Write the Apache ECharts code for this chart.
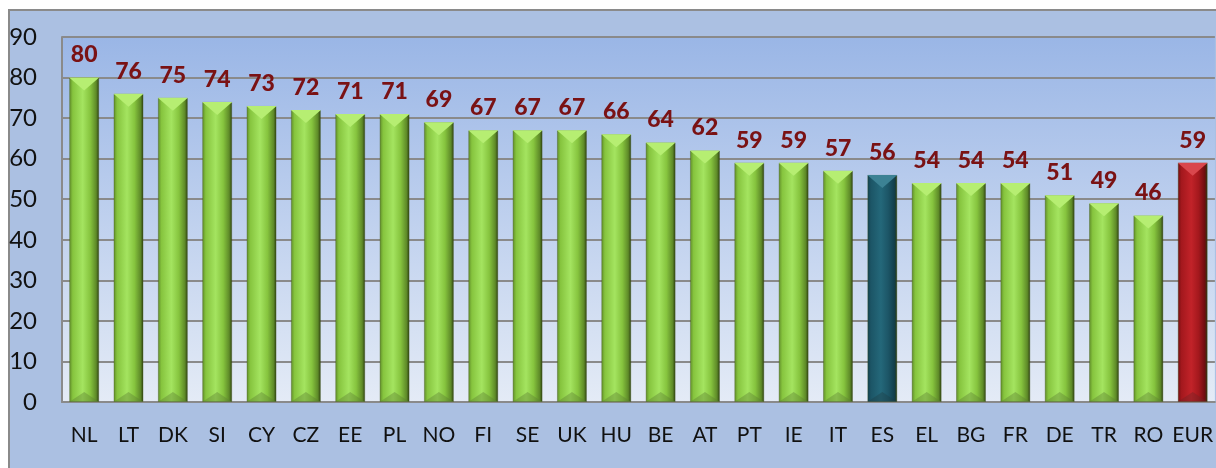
<!DOCTYPE html>
<html>
<head>
<meta charset="utf-8">
<script src="https://cdn.jsdelivr.net/npm/echarts@6/dist/echarts.min.js"></script>
<style>
  html, body { margin: 0; padding: 0; background: #fff; }
  #frame {
    position: absolute; left: 8px; top: 9px; width: 1216px; height: 470px;
    border: 2px solid #8a8a8a; box-sizing: border-box; background: #abc0e2;
  }
  #chart { position: absolute; left: 0; top: 0; width: 1216px; height: 468px; }
</style>
</head>
<body>
<div id="frame"></div>
<div id="chart"></div>
<script>
const categories = ["NL", "LT", "DK", "SI", "CY", "CZ", "EE", "PL", "NO", "FI", "SE", "UK", "HU",
  "BE", "AT", "PT", "IE", "IT", "ES", "EL", "BG", "FR", "DE", "TR", "RO", "EUR"];
const values = [80, 76, 75, 74, 73, 72, 71, 71, 69, 67, 67, 67, 66, 64, 62, 59, 59, 57, 56, 54, 54, 54, 51, 49, 46, 59];
const yTicks = [0, 10, 20, 30, 40, 50, 60, 70, 80, 90];

const chartContainer = document.getElementById("chart");
const myChart = echarts.init(chartContainer);

function barGradient(dark, mid, light) {
  return new echarts.graphic.LinearGradient(0, 0, 1, 0, [
    { offset: 0, color: dark },
    { offset: 0.12, color: mid },
    { offset: 0.45, color: light },
    { offset: 0.7, color: mid },
    { offset: 0.9, color: dark },
    { offset: 1, color: "#2a3a10" },
  ]);
}

const palette = {
  green: { fill: barGradient("#5e8a28", "#86c43e", "#a4e460"), top: "#b6ee72", bottom: "#5d7f32" },
  teal: { fill: barGradient("#123f4c", "#1c5566", "#24687a"), top: "#3c8294", bottom: "#1f3e47" },
  red: { fill: barGradient("#6e0d10", "#a3181d", "#c22329"), top: "#d9474d", bottom: "#6e2226" },
};

function pick(i) {
  if (categories[i] === "ES") return palette.teal;
  if (categories[i] === "EUR") return palette.red;
  return palette.green;
}

const barData = values.map((v, i) => ({ value: v, itemStyle: { color: pick(i).fill } }));
const topData = values.map((v, i) => ({ value: v, itemStyle: { color: pick(i).top } }));
const bottomData = values.map((v, i) => ({ value: v, itemStyle: { color: pick(i).bottom, opacity: 0.4 } }));

const option = {
  animation: false,
  grid: {
    left: 62,
    right: -3,
    top: 37,
    bottom: 66,
    show: true,
    borderWidth: 0,
    backgroundColor: new echarts.graphic.LinearGradient(0, 0, 0, 1, [
      { offset: 0, color: "#9ab6e6" },
      { offset: 1, color: "#e4ebf6" },
    ]),
  },
  xAxis: {
    type: "category",
    data: categories,
    axisLine: { show: true, lineStyle: { color: "#8a8a8a", width: 2 } },
    axisTick: { show: false },
    axisLabel: {
      color: "#111",
      fontFamily: "Lato",
      fontSize: 21,
      margin: 23,
      interval: 0,
    },
  },
  yAxis: {
    type: "value",
    min: 0,
    max: 90,
    interval: 10,
    axisLine: { show: true, lineStyle: { color: "#8a8a8a", width: 2 } },
    axisTick: { show: false },
    splitLine: { lineStyle: { color: "#8a8a8a", width: 2 } },
    axisLabel: {
      color: "#111",
      fontFamily: "Lato",
      fontSize: 24,
      margin: 25,
      formatter: (v) => (yTicks.includes(v) ? String(v) : ""),
    },
  },
  series: [
    {
      type: "bar",
      data: barData,
      barWidth: 30,
      barGap: "-100%",
      z: 2,
      itemStyle: { borderColor: "rgba(60,80,20,0.35)", borderWidth: 1 },
      label: {
        show: true,
        position: "top",
        distance: 11,
        color: "#7a1214",
        fontFamily: "Lato",
        fontWeight: 900,
        fontSize: 23,
      },
    },
    {
      type: "pictorialBar",
      data: topData,
      barWidth: 30,
      barGap: "-100%",
      z: 3,
      symbol: "triangle",
      symbolRotate: 180,
      symbolPosition: "end",
      symbolSize: [30, 13],
      silent: true,
    },
    {
      type: "pictorialBar",
      data: bottomData,
      barWidth: 30,
      barGap: "-100%",
      z: 3,
      symbol: "triangle",
      symbolPosition: "start",
      symbolSize: [30, 10],
      silent: true,
    },
  ],
};

myChart.setOption(option);
</script>
</body>
</html>
